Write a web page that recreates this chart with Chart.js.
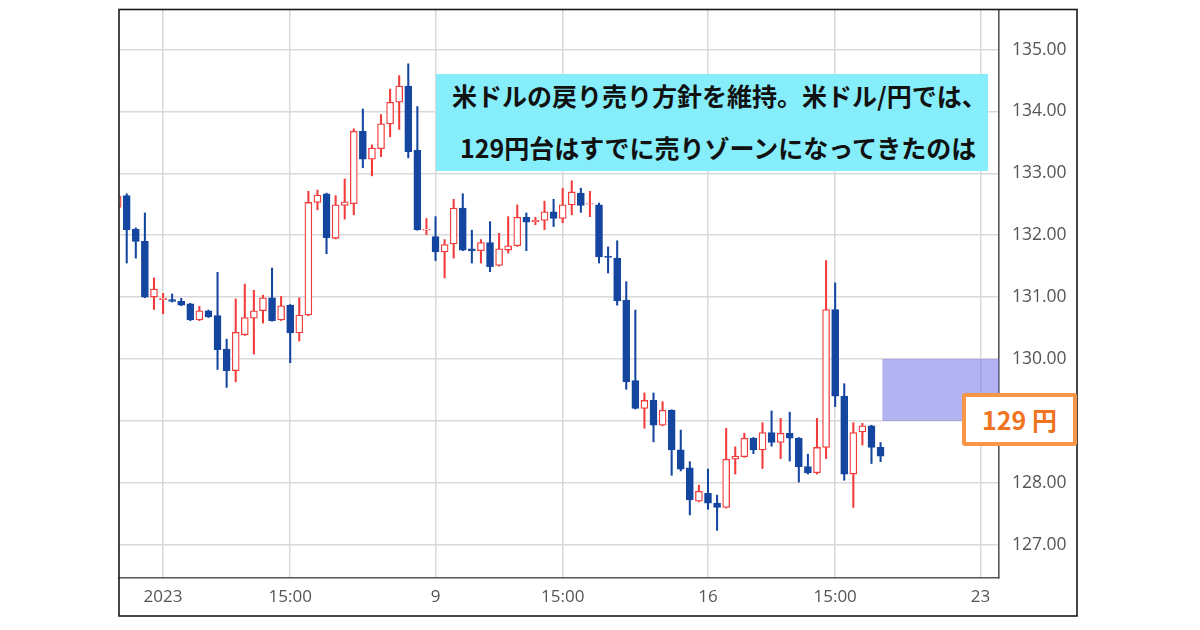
<!DOCTYPE html>
<html>
<head>
<meta charset="utf-8">
<script src="https://cdn.jsdelivr.net/npm/chart.js@4.4.1/dist/chart.umd.min.js"></script>
<style>
  html, body { margin: 0; padding: 0; background: #ffffff; }
  #wrap { position: relative; width: 1200px; height: 630px; overflow: hidden; }
  #c { position: absolute; left: 0; top: 0; }
  #title {
    position: absolute; left: 436px; top: 74px; width: 552px; height: 97px;
    background: #86eefb; font-family: "Noto Sans CJK JP", "Noto Sans", sans-serif;
    font-weight: 700; font-size: 25px; color: #111; line-height: 1;
  }
  #title .l1 { position: absolute; left: 16px; top: 9px; white-space: nowrap; }
  #title .l2 { position: absolute; left: 24px; top: 61px; white-space: nowrap; }
  #lbl {
    position: absolute; left: 962px; top: 393px; width: 107px; height: 45px;
    border: 4px solid #f79646; border-radius: 3px; background: #ffffff;
    color: #f0731f; font-family: "Noto Sans CJK JP", "Noto Sans", sans-serif;
    font-weight: 700; font-size: 25px; line-height: 45px; text-align: center;
    box-sizing: content-box;
  }
</style>
</head>
<body>
<div id="wrap">
  <canvas id="c" width="1200" height="630"></canvas>
  <div id="title"><span class="l1">米ドルの戻り売り方針を維持。米ドル/円では、</span><span class="l2">129円台はすでに売りゾーンになってきたのは</span></div>
  <div id="lbl">129 円</div>
</div>
<script>
// ---- data (4-hour candles, USD/JPY) ----
const opens = [132.45,132.64,132.10,131.90,131.00,130.96,130.96,130.93,130.89,130.63,
  130.78,130.70,130.16,129.81,130.39,130.66,130.78,130.99,130.63,130.87,
  130.42,130.71,132.53,132.67,131.95,132.48,132.51,133.68,133.23,133.40,
  133.80,134.15,134.41,133.37,132.08,131.98,131.73,131.86,132.44,131.78,
  131.75,131.88,131.51,131.76,131.83,132.29,132.22,132.24,132.38,132.27,
  132.49,132.68,132.50,132.49,131.66,131.63,130.95,129.65,129.20,129.33,
  128.93,129.17,128.53,128.24,127.70,127.83,127.67,127.60,128.38,128.42,
  128.72,128.53,128.81,128.65,128.80,128.72,128.26,128.16,128.57,130.80,
  129.40,128.14,128.82,128.92,128.57];
const closes = [132.63,132.09,131.90,131.00,131.13,130.98,130.93,130.87,130.63,130.78,
  130.68,130.15,129.81,130.43,130.67,130.78,130.99,130.62,130.86,130.42,
  130.71,132.53,132.65,131.96,132.49,132.54,133.68,133.23,133.41,133.80,
  134.15,134.41,133.35,132.09,132.10,131.73,131.85,132.44,131.76,131.75,
  131.88,131.49,131.78,131.83,132.29,132.21,132.24,132.38,132.27,132.49,
  132.70,132.48,132.51,131.65,131.64,130.94,129.63,129.20,129.33,128.93,
  129.17,128.53,128.22,127.72,127.86,127.67,127.60,128.38,128.43,128.72,
  128.53,128.81,128.65,128.80,128.72,128.26,128.16,128.57,130.80,129.40,
  128.14,128.81,128.92,128.57,128.43];
const highs = [132.66,132.67,132.12,132.36,131.31,131.06,131.05,130.98,130.90,130.85,
  130.79,131.40,130.32,130.97,131.21,131.11,131.03,131.47,131.01,130.88,
  130.99,132.71,132.73,132.68,132.64,132.91,133.72,134.04,133.46,133.95,
  134.36,134.58,134.77,134.08,132.27,132.30,131.93,132.58,132.67,132.08,
  131.93,132.22,132.03,132.30,132.49,132.36,132.29,132.55,132.58,132.76,
  132.88,132.76,132.71,132.52,131.81,131.91,131.25,130.79,129.45,129.45,
  129.31,129.18,128.85,128.34,127.96,128.22,127.80,128.88,128.58,128.80,
  128.73,128.97,129.16,129.04,129.14,128.73,128.46,129.04,131.59,131.23,
  129.60,128.97,128.96,128.93,128.65];
const lows = [132.42,131.55,131.63,130.99,130.80,130.73,130.92,130.86,130.62,130.62,
  130.67,129.83,129.54,129.63,130.38,130.08,130.58,130.61,130.62,129.94,
  130.29,130.70,132.41,131.70,131.94,132.26,132.33,133.09,132.96,133.27,
  133.59,133.71,133.25,132.08,132.01,131.59,131.31,131.63,131.75,131.55,
  131.55,131.41,131.50,131.71,131.82,131.75,132.17,132.09,132.14,132.20,
  132.33,132.37,132.30,131.55,131.39,130.87,129.51,129.19,128.88,128.66,
  128.92,128.12,128.19,127.48,127.69,127.57,127.23,127.59,128.14,128.41,
  128.47,128.23,128.59,128.39,128.35,128.01,128.14,128.14,128.39,129.23,
  128.04,127.60,128.61,128.31,128.34];
const xTickValues = [5, 19, 35, 49, 65, 79, 95];
const xTickLabels = ['2023', '15:00', '9', '15:00', '16', '15:00', '23'];
const yTickValues = [127, 128, 129, 130, 131, 132, 133, 134, 135];
const zoneLow = 129, zoneHigh = 130, zoneStart = 84.2;

const UP = '#f23b3b', DOWN = '#1446a0';
const isUp = opens.map((o, i) => closes[i] >= o);

const bodyData = opens.map((o, i) => ({ x: i, y: [o, closes[i]] }));
const wickData = opens.map((o, i) => ({ x: i, y: [lows[i], highs[i]] }));

const framePlugin = {
  id: 'frame',
  beforeDatasetsDraw(chart) {
    const { ctx, chartArea, scales } = chart;
    const x1 = scales.x.getPixelForValue(zoneStart);
    const y1 = scales.y.getPixelForValue(zoneHigh);
    const y2 = scales.y.getPixelForValue(zoneLow);
    ctx.save();
    ctx.fillStyle = 'rgba(110,110,228,0.52)';
    ctx.fillRect(x1, y1, chartArea.right - x1, y2 - y1);
    ctx.restore();
  },
  afterDraw(chart) {
    const { ctx } = chart;
    ctx.save();
    ctx.strokeStyle = '#1a1a1a';
    ctx.lineWidth = 1.6;
    ctx.strokeRect(119, 9.5, 958, 606.5);
    ctx.restore();
  }
};

new Chart(document.getElementById('c'), {
  type: 'bar',
  data: {
    datasets: [
      {
        data: bodyData,
        order: 0,
        grouped: false,
        barThickness: 7,
        backgroundColor: isUp.map(u => u ? '#ffffff' : DOWN),
        borderColor: isUp.map(u => u ? UP : DOWN),
        borderWidth: 1.3,
        borderSkipped: false
      },
      {
        data: wickData,
        order: 1,
        grouped: false,
        barThickness: 1.4,
        backgroundColor: isUp.map(u => u ? UP : DOWN),
        borderWidth: 0
      }
    ]
  },
  options: {
    responsive: false,
    animation: false,
    devicePixelRatio: 1,
    layout: { padding: { left: 119, top: 10, right: 123, bottom: 14 } },
    plugins: { legend: { display: false }, tooltip: { enabled: false } },
    scales: {
      x: {
        type: 'linear',
        min: 0.15,
        max: 97.04,
        offset: false,
        afterBuildTicks(axis) { axis.ticks = xTickValues.map(v => ({ value: v })); },
        afterFit(axis) { axis.height = 38; axis.paddingLeft = 0; axis.paddingRight = 0; },
        ticks: {
          autoSkip: false,
          maxRotation: 0,
          padding: 9,
          color: '#555555',
          font: { family: 'Open Sans', size: 17 },
          callback: (v) => { const k = xTickValues.indexOf(v); return k >= 0 ? xTickLabels[k] : ''; }
        },
        grid: { color: '#d9d9d9', lineWidth: 1.5, drawTicks: false, offset: false },
        border: { color: '#555555', width: 1.6 }
      },
      y: {
        type: 'linear',
        position: 'right',
        min: 126.46,
        max: 135.64,
        afterBuildTicks(axis) { axis.ticks = yTickValues.map(v => ({ value: v })); },
        afterFit(axis) { axis.width = 78; axis.paddingTop = 0; axis.paddingBottom = 0; },
        ticks: {
          padding: 13,
          color: '#555555',
          font: { family: 'Open Sans', size: 17.5 },
          callback: (v) => Number(v).toFixed(2)
        },
        grid: { color: '#d9d9d9', lineWidth: 1.5, drawTicks: false },
        border: { color: '#555555', width: 1.6 }
      }
    }
  },
  plugins: [framePlugin]
});
</script>
</body>
</html>
